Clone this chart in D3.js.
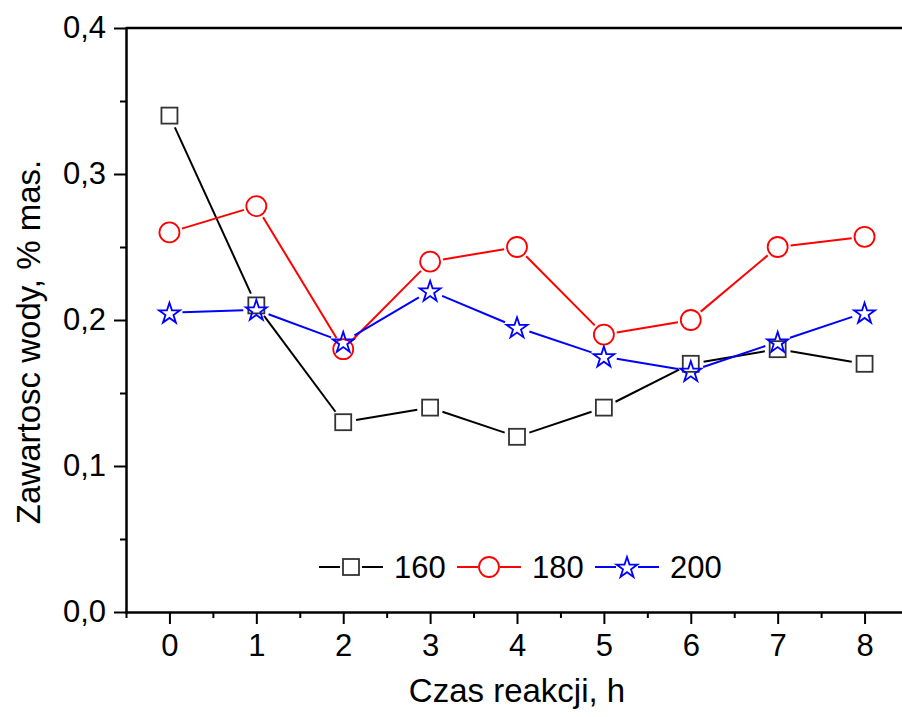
<!DOCTYPE html>
<html>
<head>
<meta charset="utf-8">
<script src="https://cdn.jsdelivr.net/npm/d3@7"></script>
<style>
  body { margin: 0; background: #fff; }
  text { font-family: "Liberation Sans", Arial, sans-serif; fill: #000; }
</style>
</head>
<body>
<div class="chart"></div>
<script>
// data
var hours = [0, 1, 2, 3, 4, 5, 6, 7, 8];
var seriesNames = ['160', '180', '200'];
var water160 = [0.34, 0.21, 0.13, 0.14, 0.12, 0.14, 0.17, 0.18, 0.17];
var water180 = [0.26, 0.278, 0.18, 0.24, 0.25, 0.19, 0.20, 0.25, 0.257];
var water200 = [0.205, 0.207, 0.185, 0.22, 0.195, 0.175, 0.165, 0.185, 0.205];
var yTicks = [0, 0.1, 0.2, 0.3, 0.4];
var yMinorTicks = [0.05, 0.15, 0.25, 0.35];
var xMinorTicks = [-0.5, 0.5, 1.5, 2.5, 3.5, 4.5, 5.5, 6.5, 7.5, 8.5];

var W = 902, H = 717;
var margin = {top: 28, right: -6, bottom: 105, left: 126};

var x = d3.scaleLinear()
  .domain([-0.5, 8.5])
  .range([margin.left, W - margin.right]);

var y = d3.scaleLinear()
  .domain([0, 0.4])
  .range([H - margin.bottom, margin.top]);

var comma = d => d3.format('.1f')(d).replace('.', ',');

var series = [
  {name: seriesNames[0], values: water160, color: '#000', mark: '#333', shape: 'square'},
  {name: seriesNames[1], values: water180, color: '#ff0000', mark: '#ff0000', shape: 'circle'},
  {name: seriesNames[2], values: water200, color: '#0000ff', mark: '#0000ff', shape: 'star'}
];

var svg = d3.select('.chart').append('svg')
  .attr('width', W)
  .attr('height', H);

// axes
var gY = svg.append('g')
  .attr('transform', `translate(${margin.left}, 0)`)
  .call(d3.axisLeft(y).tickValues(yTicks).tickSize(12).tickSizeOuter(0)
    .tickPadding(8).tickFormat(comma));

svg.append('g')
  .attr('transform', `translate(${margin.left}, 0)`)
  .call(d3.axisLeft(y).tickValues(yMinorTicks).tickSize(6).tickFormat(''))
  .select('.domain').remove();

var gX = svg.append('g')
  .attr('transform', `translate(0, ${y(0)})`)
  .call(d3.axisBottom(x).tickValues(hours).tickSize(12).tickSizeOuter(0)
    .tickPadding(10).tickFormat(d3.format('d')));

svg.append('g')
  .attr('transform', `translate(0, ${y(0)})`)
  .call(d3.axisBottom(x).tickValues(xMinorTicks).tickSize(6).tickFormat(''))
  .select('.domain').remove();

// top frame
svg.append('line')
  .attr('x1', x(-0.5)).attr('x2', x(8.5))
  .attr('y1', y(0.4)).attr('y2', y(0.4))
  .attr('stroke', '#000').attr('stroke-width', 2.5);

svg.selectAll('.domain').attr('stroke-width', 2.5).attr('stroke-linecap', 'square');
svg.selectAll('.tick line').attr('stroke-width', 2);
svg.selectAll('.tick text').attr('font-size', 31).attr('font-family', '"Liberation Sans", Arial, sans-serif');

// axis titles
svg.append('text')
  .attr('x', (x(-0.5) + x(8.5)) / 2 + 0)
  .attr('y', 702)
  .attr('text-anchor', 'middle')
  .attr('font-size', 33)
  .text('Czas reakcji, h');

svg.append('text')
  .attr('transform', `translate(40, ${y(0.2) + 22}) rotate(-90)`)
  .attr('text-anchor', 'middle')
  .attr('font-size', 33)
  .text('Zawartosc wody, % mas.');

// markers
var starSym = d3.symbol(d3.symbolStar, 11 * 11 / 0.8908130915292852);

function drawMarker(sel, shape, color) {
  if (shape === 'square') {
    sel.append('rect')
      .attr('x', -8).attr('y', -8).attr('width', 16).attr('height', 16)
      .attr('fill', 'none').attr('stroke', color).attr('stroke-width', 1.8);
  } else if (shape === 'circle') {
    sel.append('circle')
      .attr('r', 10)
      .attr('fill', 'none').attr('stroke', color).attr('stroke-width', 1.8);
  } else {
    sel.append('path')
      .attr('d', starSym)
      .attr('transform', 'translate(0,1)')
      .attr('fill', 'none').attr('stroke', color).attr('stroke-width', 1.8);
  }
}

var gap = 13;

series.forEach(function(s) {
  var pts = hours.map((h, i) => [x(h), y(s.values[i])]);
  var g = svg.append('g').attr('class', 'series');

  // line segments stop short of the markers
  d3.pairs(pts).forEach(function(p) {
    var dx = p[1][0] - p[0][0], dy = p[1][1] - p[0][1];
    var len = Math.sqrt(dx * dx + dy * dy);
    if (len <= 2 * gap) return;
    var ux = dx / len, uy = dy / len;
    g.append('line')
      .attr('x1', p[0][0] + ux * gap).attr('y1', p[0][1] + uy * gap)
      .attr('x2', p[1][0] - ux * gap).attr('y2', p[1][1] - uy * gap)
      .attr('stroke', s.color).attr('stroke-width', 2);
  });

  pts.forEach(function(p) {
    var m = g.append('g').attr('transform', `translate(${p[0]}, ${p[1]})`);
    drawMarker(m, s.shape, s.mark);
  });
});

// legend
var legendX = [319, 457, 595];
var legendY = 567;
series.forEach(function(s, i) {
  var lg = svg.append('g').attr('transform', `translate(${legendX[i]}, ${legendY})`);
  lg.append('line').attr('x1', 0).attr('x2', 21).attr('stroke', s.color).attr('stroke-width', 2);
  lg.append('line').attr('x1', 43).attr('x2', 64).attr('stroke', s.color).attr('stroke-width', 2);
  drawMarker(lg.append('g').attr('transform', 'translate(32, 0)'), s.shape, s.mark);
  lg.append('text')
    .attr('x', 75)
    .attr('y', 11)
    .attr('font-size', 31)
    .text(s.name);
});
</script>
</body>
</html>
